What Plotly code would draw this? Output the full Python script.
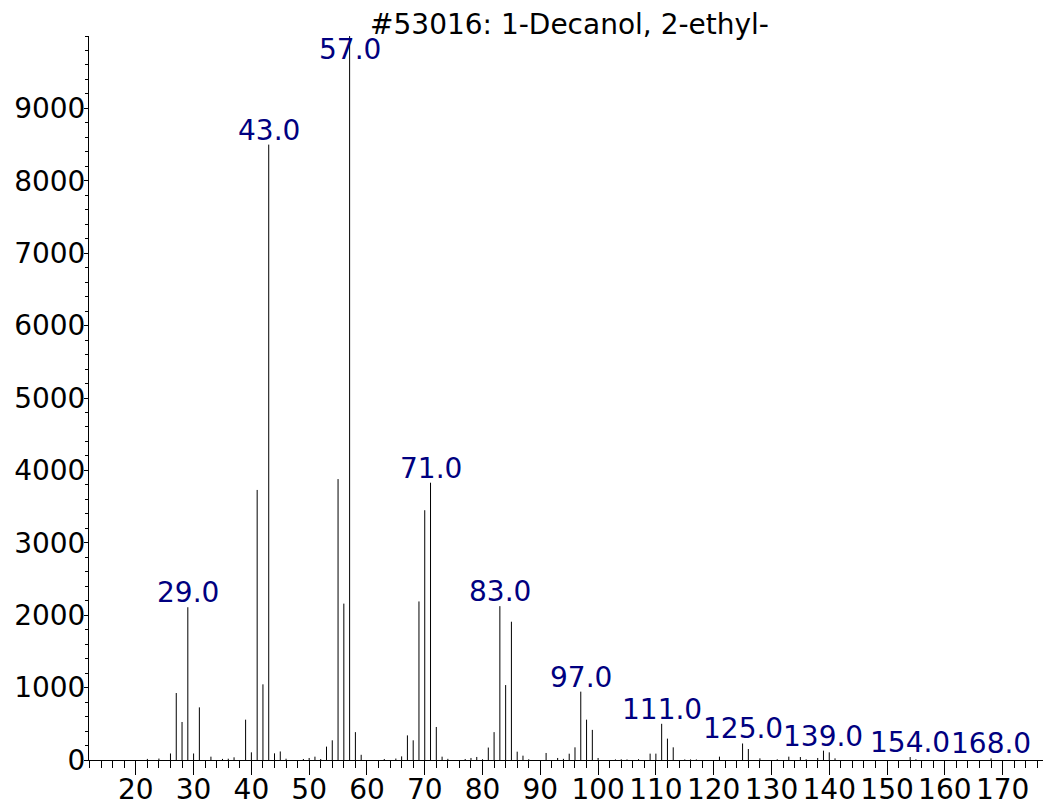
import plotly.graph_objects as go

title_text = "#53016: 1-Decanol, 2-ethyl-"

mz = [22, 24, 26, 27, 28, 29, 30, 31, 33, 35, 36, 37, 39, 40, 41, 42, 43, 44, 45, 46,
      49, 50, 51, 52, 53, 54, 55, 56, 57, 58, 59, 63, 65, 66, 67, 68, 69, 70, 71, 72,
      73, 74, 77, 78, 79, 80, 81, 82, 83, 84, 85, 86, 87, 88, 91, 93, 94, 95, 96, 97,
      98, 99, 100, 103, 104, 105, 107, 109, 110, 111, 112, 113, 115, 116, 117, 121,
      125, 126, 128, 131, 133, 135, 136, 138, 139, 140, 141, 154, 155, 168]

intensity = [15, 20, 90, 925, 525, 2110, 90, 727, 46, 15, 18, 37, 557, 106, 3730, 1045, 8500, 92, 118, 18,
             14, 28, 46, 14, 185, 272, 3880, 2160, 9999, 385, 72, 14, 20, 50, 340, 272, 2190, 3450, 3830, 456,
             46, 16, 14, 28, 42, 10, 172, 385, 2125, 1035, 1910, 115, 60, 10, 97, 28, 16, 87, 175, 944,
             557, 416, 28, 8, 10, 8, 12, 88, 88, 500, 295, 175, 8, 8, 8, 46,
             228, 152, 23, 10, 46, 41, 10, 28, 129, 106, 23, 41, 10, 23]

label_mz = [29, 43, 57, 71, 83, 97, 111, 125, 139, 154, 168]

y_ticks = [0, 1000, 2000, 3000, 4000, 5000, 6000, 7000, 8000, 9000]
x_ticks = [20, 30, 40, 50, 60, 70, 80, 90, 100, 110, 120, 130, 140, 150, 160, 170]

FONT = "DejaVu Sans"
LABEL_COLOR = "#000080"

# page body has an 8px margin; size the figure so the plot lands where the reference has it
W, H = 1043, 801

xs, ys = [], []
for m, v in zip(mz, intensity):
    xs += [m, m, None]
    ys += [0, v, None]

fig = go.Figure()
fig.add_trace(go.Scatter(x=xs, y=ys, mode="lines",
                         line=dict(color="black", width=1),
                         hoverinfo="skip", showlegend=False))

peak = dict(zip(mz, intensity))
for m in label_mz:
    fig.add_annotation(x=m, y=min(peak[m], 9610), xref="x", yref="y",
                       text=f"{m:.1f}", showarrow=False,
                       xanchor="center", yanchor="bottom", yshift=-4,
                       font=dict(family=FONT, size=28, color=LABEL_COLOR))

fig.update_layout(
    width=W, height=H,
    margin=dict(l=81, r=1, t=28, b=49, autoexpand=False),
    paper_bgcolor="white", plot_bgcolor="white",
    title=dict(text=title_text, x=0.5, xref="paper", xanchor="center",
               y=1 - 16 / H, yanchor="middle",
               font=dict(family=FONT, size=28, color="black")),
    font=dict(family=FONT, size=28, color="black"),
)
fig.update_xaxes(range=[11.9, 178.2], showgrid=False, zeroline=False, automargin=False,
                 showline=True, linecolor="black", linewidth=1,
                 tickmode="array", tickvals=x_ticks,
                 ticks="outside", ticklen=14, tickcolor="black", tickwidth=1,
                 ticklabelstandoff=-10,
                 minor=dict(dtick=2, tick0=0, ticklen=7, tickcolor="black", ticks="outside"),
                 tickfont=dict(family=FONT, size=28, color="black"))
fig.update_yaxes(range=[0, 10000], showgrid=False, zeroline=False, automargin=False,
                 showline=True, linecolor="black", linewidth=1,
                 tickmode="array", tickvals=y_ticks,
                 ticks="outside", ticklen=4, tickcolor="black", tickwidth=1,
                 ticklabelstandoff=-7,
                 minor=dict(dtick=200, tick0=0, ticklen=3, tickcolor="black", ticks="outside"),
                 tickfont=dict(family=FONT, size=28, color="black"))

fig.write_html("out.html")
